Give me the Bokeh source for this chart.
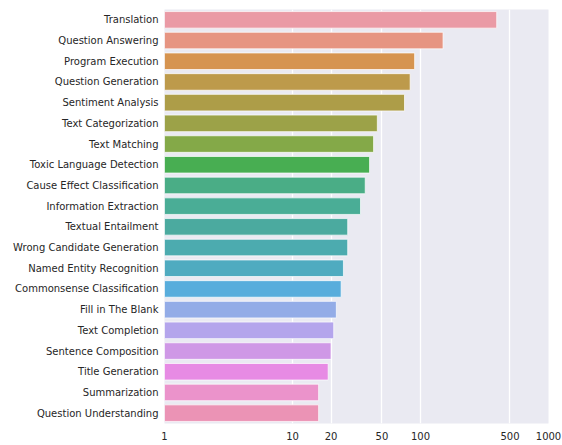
from bokeh.plotting import figure
from bokeh.models import FactorRange, FixedTicker, ColumnDataSource
from bokeh.embed import file_html
from bokeh.resources import INLINE

categories = ["Translation", "Question Answering", "Program Execution", "Question Generation",
              "Sentiment Analysis", "Text Categorization", "Text Matching",
              "Toxic Language Detection", "Cause Effect Classification", "Information Extraction",
              "Textual Entailment", "Wrong Candidate Generation", "Named Entity Recognition",
              "Commonsense Classification", "Fill in The Blank", "Text Completion",
              "Sentence Composition", "Title Generation", "Summarization", "Question Understanding"]
counts = [394, 150, 90, 83, 75, 46, 43, 40, 37, 34, 27, 27, 25, 24, 22, 21, 20, 19, 16, 16]
x_ticks = [1, 10, 20, 50, 100, 500, 1000]

colors = ["#EA9AA5", "#E69582", "#D69450", "#BD9A4B", "#AD9D48", "#9CA248", "#84A948",
          "#48AE52", "#4AAD86", "#4AAD96", "#4BAA9F", "#4CABAF", "#4FABC0", "#58ADDC",
          "#93ACE7", "#B4A5EC", "#CF98E6", "#E78BE4", "#EB93CB", "#EB93B5"]

source = ColumnDataSource(dict(cat=categories, val=counts, color=colors))

p = figure(width=562, height=445, output_backend="svg", toolbar_location=None,
           x_axis_type="log", x_range=(1, 1000),
           y_range=FactorRange(*reversed(categories)),
           min_border_left=164, min_border_right=14, min_border_top=9, min_border_bottom=22)

p.hbar(y="cat", left=1, right="val", height=0.8, source=source,
       fill_color="color", line_color="white", line_width=1, line_alpha=0.7)

p.background_fill_color = "#EAEAF2"
p.border_fill_color = "white"
p.outline_line_color = None

p.xaxis.ticker = FixedTicker(ticks=x_ticks)
p.xaxis.major_label_overrides = {t: str(t) for t in x_ticks}
p.xgrid.ticker = FixedTicker(ticks=x_ticks)
p.xgrid.grid_line_color = "white"
p.xgrid.grid_line_width = 1.3
p.ygrid.grid_line_color = None
p.xgrid.minor_grid_line_color = None

for ax in (p.xaxis, p.yaxis):
    ax.axis_line_color = None
    ax.major_tick_line_color = None
    ax.minor_tick_line_color = None
    ax.major_tick_out = 0
    ax.minor_tick_out = 0
    ax.major_label_text_font = "DejaVu Sans"
    ax.major_label_text_font_size = "10px"
    ax.major_label_text_color = "#262626"
p.xaxis.major_label_standoff = 8
p.yaxis.major_label_standoff = 6

open("out.html", "w").write(file_html(p, INLINE))
